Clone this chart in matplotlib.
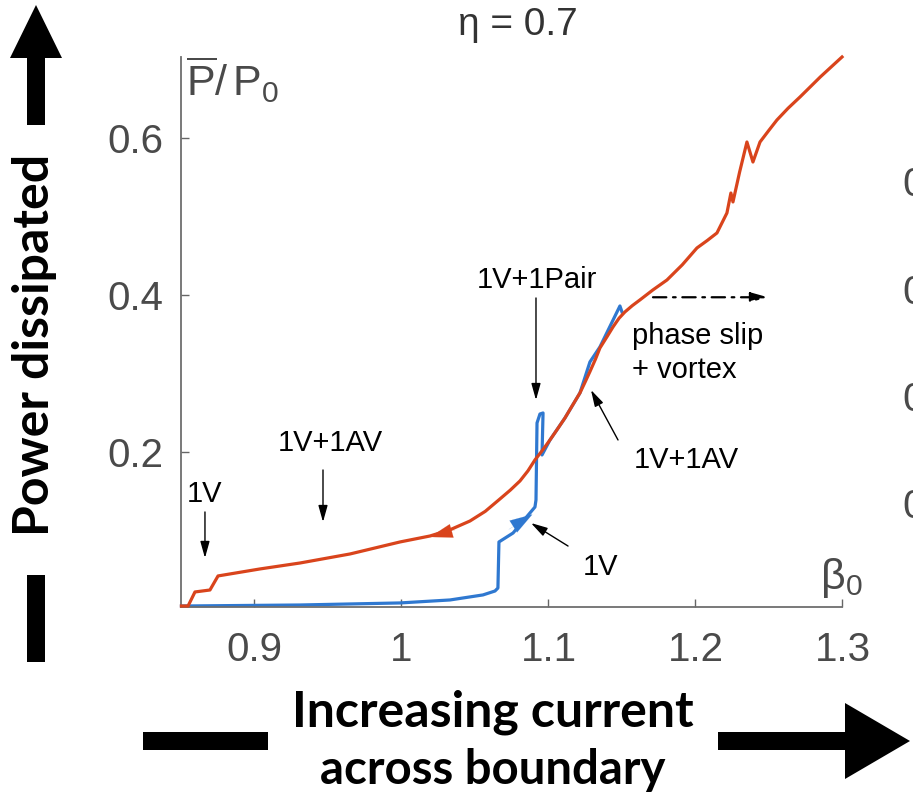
import matplotlib
matplotlib.use("Agg")
import matplotlib.pyplot as plt
from matplotlib.patches import Polygon

plt.rcParams['font.family'] = ['Liberation Sans', 'DejaVu Sans']
plt.rcParams['mathtext.fontset'] = 'custom'
plt.rcParams['mathtext.rm'] = 'Liberation Sans'
plt.rcParams['mathtext.it'] = 'Liberation Sans'

# sweep down (red) : beta0 vs mean power
red_b = [0.8503, 0.8548, 0.8595, 0.8697, 0.8752, 0.9037, 0.9310, 0.9650, 0.9990,
         1.0194, 1.0330, 1.0466, 1.0570, 1.0670, 1.0740, 1.0806, 1.0860, 1.0908,
         1.0960, 1.1010, 1.1060, 1.1112, 1.1160, 1.1214, 1.1250, 1.1282, 1.1320,
         1.1350, 1.1400, 1.1439, 1.1480, 1.1520, 1.1570, 1.1622, 1.1710, 1.1806,
         1.1910, 1.2010, 1.2080, 1.2146, 1.2214, 1.2241, 1.2255, 1.2300, 1.2350,
         1.2391, 1.2439, 1.2500, 1.2554, 1.2630, 1.2711, 1.2850, 1.2997]
red_p = [0.0034, 0.0034, 0.0213, 0.0238, 0.0417, 0.0506, 0.0582, 0.0697, 0.0850,
         0.0926, 0.1005, 0.1117, 0.1240, 0.1398, 0.1510, 0.1627, 0.1755, 0.1895,
         0.2020, 0.2149, 0.2285, 0.2429, 0.2580, 0.2748, 0.2890, 0.3020, 0.3180,
         0.3321, 0.3470, 0.3589, 0.3700, 0.3780, 0.3860, 0.3933, 0.4060, 0.4187,
         0.4380, 0.4595, 0.4690, 0.4786, 0.5041, 0.5295, 0.5181, 0.5560, 0.5945,
         0.5690, 0.5945, 0.6095, 0.6225, 0.6375, 0.6518, 0.6775, 0.7028]

# sweep up (blue)
blue_b = [0.8503, 0.9310, 0.9990, 1.0330, 1.0554, 1.0636, 1.0656, 1.0663, 1.0759,
          1.0908, 1.0915, 1.0922, 1.0942, 1.0963, 1.0956, 1.1010, 1.1112, 1.1214,
          1.1282, 1.1350, 1.1486, 1.1500]
blue_p = [0.0034, 0.0047, 0.0073, 0.0111, 0.0175, 0.0225, 0.0263, 0.0850, 0.0964,
          0.1295, 0.1385, 0.2366, 0.2480, 0.2493, 0.1958, 0.2149, 0.2429, 0.2748,
          0.3143, 0.3334, 0.3856, 0.3780]

xticks = [0.9, 1.0, 1.1, 1.2, 1.3]
xticklabels = ['0.9', '1', '1.1', '1.2', '1.3']
yticks = [0.2, 0.4, 0.6]
yticklabels = ['0.2', '0.4', '0.6']

RED = '#d9441c'
BLUE = '#2f78d0'
GREY = '#4a4a4a'

W, H = 913, 807
fig = plt.figure(figsize=(W / 100, H / 100), dpi=100)

def fx(px):
    return px / W

def fy(py):
    return 1 - py / H

ax = fig.add_axes([0.19825, 0.2477, 0.7245, 0.6819])
ax.plot(blue_b, blue_p, color=BLUE, lw=2.3, clip_on=False, zorder=2,
        solid_joinstyle='round')
ax.plot(red_b, red_p, color=RED, lw=2.3, clip_on=False, zorder=3,
        solid_joinstyle='round')

# direction heads on the curves
head = '-|>,head_length=1.6,head_width=0.5'
ax.annotate('', xy=(1.0194, 0.0913), xytext=(1.0364, 0.1003),
            arrowprops=dict(arrowstyle=head, color=RED, lw=0.1,
                            shrinkA=0, shrinkB=0), zorder=4)
ax.annotate('', xy=(1.0890, 0.1200), xytext=(1.0730, 0.1010),
            arrowprops=dict(arrowstyle=head, color=BLUE, lw=0.1,
                            shrinkA=0, shrinkB=0), zorder=4)

ax.set_xlim(0.85, 1.3)
ax.set_ylim(0.002, 0.703)
ax.set_xticks(xticks)
ax.set_xticklabels(xticklabels)
ax.set_yticks(yticks)
ax.set_yticklabels(yticklabels)
ax.tick_params(direction='in', length=6, width=1, colors='#666666',
               labelcolor=GREY, labelsize=29)
ax.tick_params(axis='x', pad=17)
ax.tick_params(axis='y', pad=13)
for s in ['top', 'right']:
    ax.spines[s].set_visible(False)
for s in ['left', 'bottom']:
    ax.spines[s].set_color('#6e6e6e')
    ax.spines[s].set_linewidth(1.3)

# state labels with arrows
ann = dict(fontsize=21, color='black', ha='center', va='center')
arr = dict(arrowstyle='-|>,head_length=1.0,head_width=0.28', color='black',
           lw=1.0, shrinkA=0, shrinkB=0)
ax.text(0.8663, 0.1462, '1V', **ann)
ax.annotate('', xy=(0.8663, 0.0646), xytext=(0.8663, 0.1232), arrowprops=arr)
ax.text(0.9514, 0.2111, '1V+1AV', **ann)
ax.annotate('', xy=(0.9466, 0.1104), xytext=(0.9466, 0.1767), arrowprops=arr)
ax.text(1.0922, 0.4184, '1V+1Pair', **ann)
ax.annotate('', xy=(1.0915, 0.2658), xytext=(1.0915, 0.3958), arrowprops=arr)
ax.text(1.1935, 0.1894, '1V+1AV', **ann)
ax.annotate('', xy=(1.1289, 0.2786), xytext=(1.1473, 0.2149), arrowprops=arr)
ax.text(1.1357, 0.0531, '1V', **ann)
ax.annotate('', xy=(1.0881, 0.1091), xytext=(1.1133, 0.0798), arrowprops=arr)
ax.text(1.1568, 0.3257, 'phase slip\n+ vortex', fontsize=21, color='black',
        ha='left', va='center', linespacing=1.3)
ax.annotate('', xy=(1.2493, 0.3967), xytext=(1.1711, 0.3967),
            arrowprops=dict(arrowstyle='-|>,head_length=1.0,head_width=0.28',
                            color='black', lw=1.6, linestyle=(0, (6, 3, 1.2, 3)),
                            shrinkA=0, shrinkB=0))

# axis names and title
fig.text(fx(518), fy(25), 'η = 0.7', fontsize=28, color='#333333',
         ha='center', va='center')
fig.text(fx(186), fy(80), r'$\overline{\mathrm{P}}/\,\mathrm{P}_0$', fontsize=31,
         color=GREY, ha='left', va='center')
fig.text(fx(820), fy(578), r'$\mathrm{\beta}_0$', fontsize=31,
         color=GREY, ha='left', va='center')

# tick labels of the neighbouring panel, running off the right edge
for py, lab in zip([185, 293, 400, 507], ['0.6', '0.4', '0.2', '0']):
    fig.text(fx(902), fy(py), lab, fontsize=29, color=GREY, ha='left', va='center')

# thick black arrows
def poly(pts):
    fig.add_artist(Polygon([(fx(x), fy(y)) for x, y in pts], closed=True,
                           facecolor='black', edgecolor='none',
                           transform=fig.transFigure))

poly([(27, 125), (27, 58), (10, 58), (36, 5), (62, 58), (45, 58), (45, 125)])
poly([(27, 575), (45, 575), (45, 662), (27, 662)])
poly([(143, 732), (268, 732), (268, 750), (143, 750)])
poly([(718, 732), (845, 732), (845, 703), (910, 741), (845, 779), (845, 750), (718, 750)])

bold = dict(family=['Lato', 'DejaVu Sans'], fontweight='bold', color='black',
            ha='center', va='center')
fig.text(fx(35), fy(345), 'Power dissipated', fontsize=36, rotation=90, **bold)
fig.text(fx(493), fy(712), 'Increasing current', fontsize=36, **bold)
fig.text(fx(493), fy(770), 'across boundary', fontsize=34, **bold)

fig.savefig('out.png', dpi=100)
